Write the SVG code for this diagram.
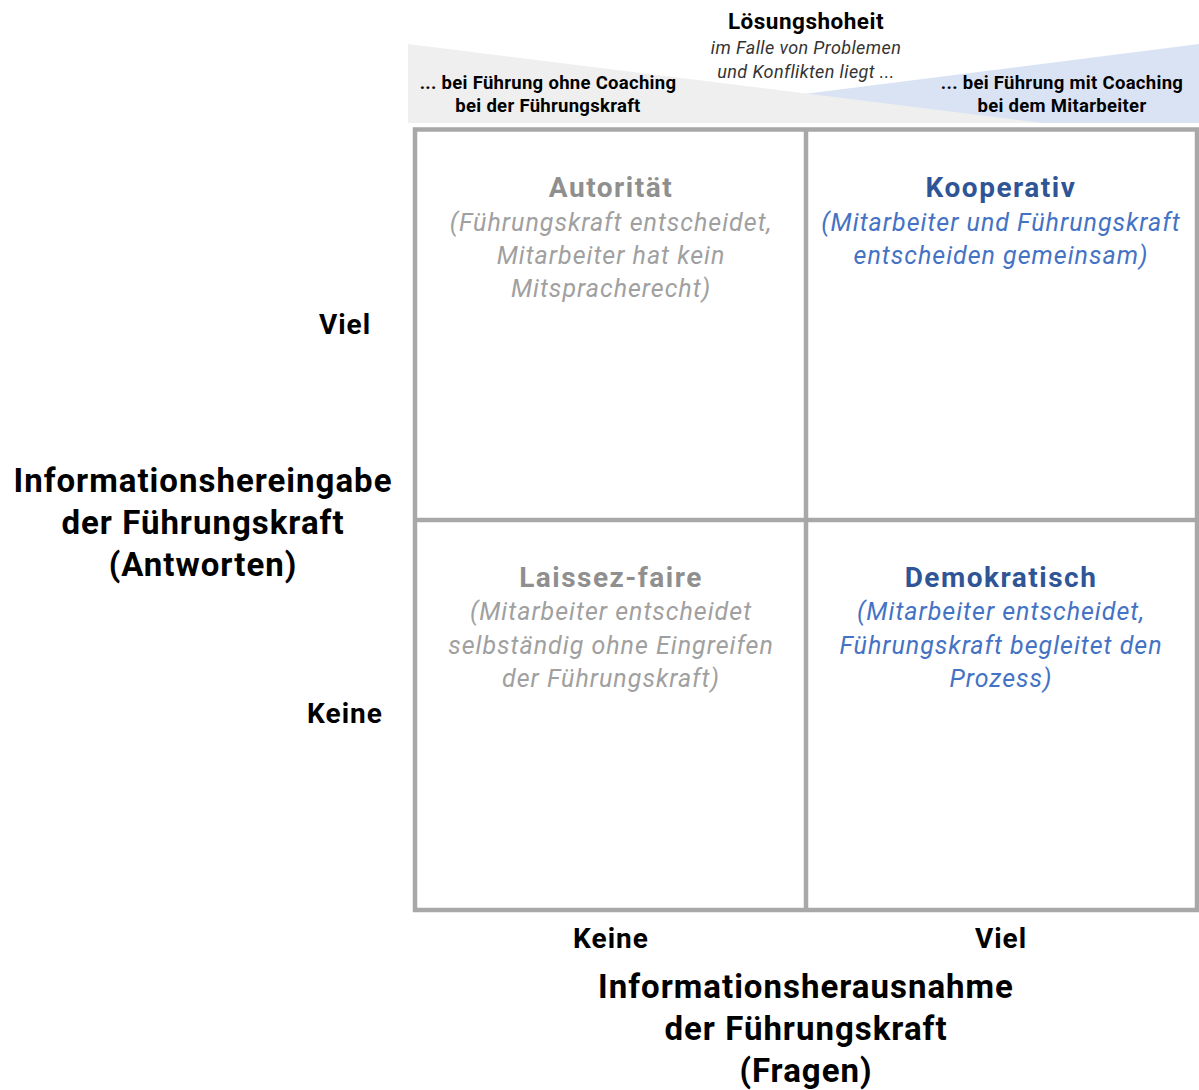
<svg xmlns="http://www.w3.org/2000/svg" width="1199" height="1090" viewBox="0 0 1199 1090">
  <style>
    .b { font-family: Roboto, "Liberation Sans", sans-serif; font-weight: bold; fill: #000; text-anchor: middle; }
    .it { font-family: Roboto, "Liberation Sans", sans-serif; font-style: italic; text-anchor: middle; }
    .ax { font-size: 33px; letter-spacing: 1px; }
    .tick { font-size: 28px; letter-spacing: 1px; }
    .ttl { font-size: 28px; letter-spacing: 1.5px; }
    .desc { font-size: 25px; letter-spacing: 1px; }
    .bn { font-size: 18.5px; letter-spacing: 0.3px; }
    .grey { fill: #8f8f8f; }
    .greyi { fill: #a0a0a0; }
    .blue { fill: #2f5597; }
    .bluei { fill: #4472c4; }
    .grid { fill: none; stroke: #a8a8a8; stroke-width: 4.5; }
  </style>
  <rect width="1199" height="1090" fill="#ffffff"/>

  <g id="banner">
    <polygon points="1199,44 1199,123 575,123" fill="#dae3f3"/>
    <polygon points="408,44 408,123 1042,123" fill="#efefef"/>
    <text class="b" x="806" y="29" font-size="22.5" letter-spacing="0.5">Lösungshoheit</text>
    <text class="it" x="806" y="54" font-size="18" letter-spacing="0.4" fill="#333">im Falle von Problemen</text>
    <text class="it" x="806" y="78" font-size="18" letter-spacing="0.4" fill="#333">und Konflikten liegt ...</text>
    <text class="b bn" x="548" y="89">... bei Führung ohne Coaching</text>
    <text class="b bn" x="548" y="112">bei der Führungskraft</text>
    <text class="b bn" x="1062" y="89">... bei Führung mit Coaching</text>
    <text class="b bn" x="1062" y="112">bei dem Mitarbeiter</text>
  </g>

  <g id="matrix">
    <rect class="grid" x="415" y="129.5" width="782" height="780.5"/>
    <line class="grid" x1="806" y1="129.5" x2="806" y2="910"/>
    <line class="grid" x1="415" y1="520" x2="1197" y2="520"/>
  </g>

  <g id="autoritaer">
    <text class="b ttl grey" x="611" y="197">Autorität</text>
    <text class="it desc greyi" x="611" y="231">(Führungskraft entscheidet,</text>
    <text class="it desc greyi" x="611" y="264">Mitarbeiter hat kein</text>
    <text class="it desc greyi" x="611" y="297">Mitspracherecht)</text>
  </g>

  <g id="kooperativ">
    <text class="b ttl blue" x="1001" y="197">Kooperativ</text>
    <text class="it desc bluei" x="1001" y="231">(Mitarbeiter und Führungskraft</text>
    <text class="it desc bluei" x="1001" y="264">entscheiden gemeinsam)</text>
  </g>

  <g id="laissez-faire">
    <text class="b ttl grey" x="611" y="587">Laissez-faire</text>
    <text class="it desc greyi" x="611" y="620">(Mitarbeiter entscheidet</text>
    <text class="it desc greyi" x="611" y="654">selbständig ohne Eingreifen</text>
    <text class="it desc greyi" x="611" y="687">der Führungskraft)</text>
  </g>

  <g id="demokratisch">
    <text class="b ttl blue" x="1001" y="587">Demokratisch</text>
    <text class="it desc bluei" x="1001" y="620">(Mitarbeiter entscheidet,</text>
    <text class="it desc bluei" x="1001" y="654">Führungskraft begleitet den</text>
    <text class="it desc bluei" x="1001" y="687">Prozess)</text>
  </g>

  <g id="y-axis">
    <text class="b tick" x="345" y="334">Viel</text>
    <text class="b tick" x="345" y="723">Keine</text>
    <text class="b ax" x="203" y="492">Informationshereingabe</text>
    <text class="b ax" x="203" y="534">der Führungskraft</text>
    <text class="b ax" x="203" y="576">(Antworten)</text>
  </g>

  <g id="x-axis">
    <text class="b tick" x="611" y="948">Keine</text>
    <text class="b tick" x="1001" y="948">Viel</text>
    <text class="b ax" x="806" y="998">Informationsherausnahme</text>
    <text class="b ax" x="806" y="1040">der Führungskraft</text>
    <text class="b ax" x="806" y="1082">(Fragen)</text>
  </g>

  <g id="connectors"></g>
</svg>
